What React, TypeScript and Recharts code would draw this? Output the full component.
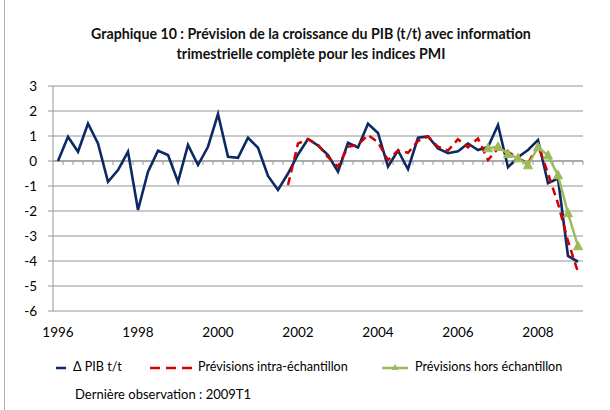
import React from 'react';
import { LineChart, Line, XAxis, YAxis, CartesianGrid, ReferenceLine } from 'recharts';

// trimestres 1996T1 .. 2009T1
const annees = [1996, 1997, 1998, 1999, 2000, 2001, 2002, 2003, 2004, 2005, 2006, 2007, 2008, 2009];
const trimestres: string[] = [];
annees.forEach((a) => {
  for (let t = 1; t <= 4; t++) {
    if (a === 2009 && t > 1) break;
    trimestres.push(`${a}T${t}`);
  }
});

const pibTT = [
  0, 0.97, 0.37, 1.5, 0.7, -0.83, -0.36, 0.37, -1.96, -0.43,
  0.41, 0.24, -0.83, 0.64, -0.16, 0.57, 1.88, 0.17, 0.13, 0.93,
  0.53, -0.6, -1.16, -0.5, 0.26, 0.88, 0.62, 0.24, -0.43, 0.73,
  0.54, 1.49, 1.12, -0.22, 0.42, -0.33, 0.93, 0.98, 0.5, 0.31,
  0.39, 0.7, 0.44, 0.56, 1.44, -0.25, 0.15, 0.44, 0.84, -0.89,
  -0.7, -3.8, -4.03,
];

// à partir de 2001T4
const debutIntra = '2001T4';
const previsionsIntra = [
  -0.96, 0.7, 0.87, 0.65, 0.15, -0.23, 0.57, 0.65, 1.04, 0.75,
  0.04, 0.42, 0.33, 0.8, 0.98, 0.57, 0.42, 0.87, 0.55, 0.9,
  0.04, 0.5, 0.37, 0.11, -0.09, 0.64, -0.5, -1.7, -3.2, -4.45,
];

// à partir de 2006T4
const debutHors = '2006T4';
const previsionsHors = [0.51, 0.57, 0.28, 0.11, -0.17, 0.55, 0.22, -0.57, -2.09, -3.41];

const yTicks = [-6, -5, -4, -3, -2, -1, 0, 1, 2, 3];

const iIntra = trimestres.indexOf(debutIntra);
const iHors = trimestres.indexOf(debutHors);

const data = trimestres.map((q, i) => ({
  i,
  q,
  pib: pibTT[i],
  intra: i >= iIntra ? previsionsIntra[i - iIntra] : null,
  hors: i >= iHors ? previsionsHors[i - iHors] : null,
}));

// étiquettes tous les deux ans (T1 des années paires)
const xTicks = trimestres
  .map((q, i) => ({ q, i }))
  .filter(({ q }) => q.endsWith('T1') && Number(q.slice(0, 4)) % 2 === 0 && q !== '2010T1')
  .map(({ i }) => i);

const FONT = 'Lato, "Open Sans", sans-serif';
const BLEU = '#0c2966';
const ROUGE = '#d00000';
const VERT = '#9bbb59';
const GRIS = '#969696';

const Triangle = (props: any) => {
  const { cx, cy } = props;
  if (cx == null || cy == null || props.value == null) return null;
  return (
    <polygon
      points={`${cx},${cy - 5} ${cx - 4.5},${cy + 3.5} ${cx + 4.5},${cy + 3.5}`}
      fill={VERT}
      stroke={VERT}
      strokeWidth={1}
    />
  );
};

const App = () => {
  return (
    <div style={{ position: 'absolute', left: 0, top: 0, width: 610, height: 410, background: '#fff', fontFamily: FONT }}>
      <div style={{ position: 'absolute', left: 4, top: 0, width: 1, height: 410, background: '#b0b0b0' }} />
      <div
        style={{
          position: 'absolute', left: 0, top: 24, width: 622, textAlign: 'center',
          fontWeight: 700, fontSize: 14.2, lineHeight: '20px', color: '#111',
        }}
      >
        Graphique 10 : Prévision de la croissance du PIB (t/t) avec information
        <br />
        trimestrielle complète pour les indices PMI
      </div>

      <LineChart width={610} height={410} data={data} margin={{ top: 86, right: 27, bottom: 69, left: 0 }}>
        <CartesianGrid horizontal vertical={false} stroke={GRIS} strokeWidth={1} />
        <XAxis
          dataKey="i"
          type="number"
          domain={[-0.5, trimestres.length - 0.5]}
          ticks={xTicks}
          tickFormatter={(v) => trimestres[v]?.slice(0, 4)}
          axisLine={false}
          tickLine={false}
          tickSize={0}
          tickMargin={16}
          height={30}
          tick={{ fill: '#000', fontSize: 13.5, fontFamily: FONT }}
          interval={0}
        />
        <YAxis
          domain={[-6, 3]}
          ticks={yTicks}
          width={53}
          axisLine={{ stroke: GRIS }}
          tickLine={{ stroke: GRIS }}
          tickSize={5}
          tickMargin={11}
          tick={{ fill: '#000', fontSize: 13.5, fontFamily: FONT }}
          interval={0}
        />
        <ReferenceLine y={0} stroke="#8a8a8a" strokeWidth={1} />
        {trimestres.map((q, i) => (
          <ReferenceLine
            key={q}
            segment={[{ x: i + 0.5, y: 0 }, { x: i + 0.5, y: -0.16 }]}
            stroke={GRIS}
            strokeWidth={1}
          />
        ))}
        <Line
          type="linear"
          dataKey="pib"
          stroke={BLEU}
          strokeWidth={2.6}
          dot={false}
          isAnimationActive={false}
        />
        <Line
          type="linear"
          dataKey="intra"
          stroke={ROUGE}
          strokeWidth={2.5}
          strokeDasharray="8 5"
          dot={false}
          isAnimationActive={false}
        />
        <Line
          type="linear"
          dataKey="hors"
          stroke={VERT}
          strokeWidth={2.5}
          dot={<Triangle />}
          isAnimationActive={false}
        />
      </LineChart>

      <div style={{ position: 'absolute', left: 0, top: 358, width: 610, height: 20, fontSize: 12.6, color: '#000' }}>
        <svg style={{ position: 'absolute', left: 0, top: 0 }} width={610} height={20}>
          <line x1={56} x2={66} y1={10} y2={10} stroke={BLEU} strokeWidth={2.5} />
          <line x1={150} x2={193} y1={10} y2={10} stroke={ROUGE} strokeWidth={2.5} strokeDasharray="10 6" />
          <line x1={382} x2={408} y1={10} y2={10} stroke={VERT} strokeWidth={2.5} />
          <polygon points="395,6 391.5,12 398.5,12" fill={VERT} />
        </svg>
        <span style={{ position: 'absolute', left: 73, top: 1 }}>Δ PIB t/t</span>
        <span style={{ position: 'absolute', left: 198, top: 1 }}>Prévisions intra-échantillon</span>
        <span style={{ position: 'absolute', left: 415, top: 1 }}>Prévisions hors échantillon</span>
      </div>
      <div style={{ position: 'absolute', left: 75, top: 386, fontSize: 13, color: '#000' }}>
        Dernière observation : 2009T1
      </div>
    </div>
  );
};

export default App;
